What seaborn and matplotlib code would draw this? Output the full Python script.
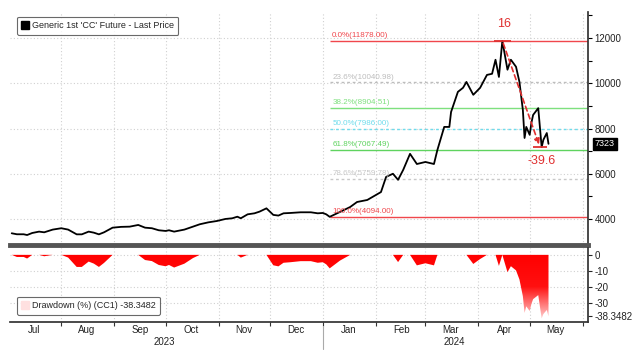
import pandas as pd
import numpy as np
import matplotlib
matplotlib.use("Agg")
import matplotlib.pyplot as plt
import matplotlib.dates as mdates
from matplotlib.colors import LinearSegmentedColormap
from matplotlib.lines import Line2D
import seaborn as sns

# CC1 close
dates = ["2023-07-03", "2023-07-06", "2023-07-10", "2023-07-12", "2023-07-15", "2023-07-19",
         "2023-07-22", "2023-07-27", "2023-08-01", "2023-08-05", "2023-08-10", "2023-08-13",
         "2023-08-17", "2023-08-20", "2023-08-23", "2023-08-26", "2023-08-31", "2023-09-05",
         "2023-09-10", "2023-09-15", "2023-09-19", "2023-09-23", "2023-09-27", "2023-10-01",
         "2023-10-03", "2023-10-06", "2023-10-12", "2023-10-17", "2023-10-21", "2023-10-26",
         "2023-10-31", "2023-11-05", "2023-11-09", "2023-11-12", "2023-11-14", "2023-11-18",
         "2023-11-22", "2023-11-25", "2023-11-29", "2023-12-01", "2023-12-03", "2023-12-06",
         "2023-12-09", "2023-12-13", "2023-12-19", "2023-12-25", "2023-12-29", "2024-01-01",
         "2024-01-03", "2024-01-05",
         "2024-01-11", "2024-01-17", "2024-01-21", "2024-01-27", "2024-02-04", "2024-02-07",
         "2024-02-11", "2024-02-14", "2024-02-17", "2024-02-21", "2024-02-25", "2024-03-01",
         "2024-03-06", "2024-03-08", "2024-03-12", "2024-03-15", "2024-03-16", "2024-03-20",
         "2024-03-23", "2024-03-25", "2024-03-29", "2024-04-02", "2024-04-06", "2024-04-09",
         "2024-04-11", "2024-04-13", "2024-04-15", "2024-04-18", "2024-04-20", "2024-04-23",
         "2024-04-25", "2024-04-27", "2024-04-28", "2024-04-29", "2024-05-01", "2024-05-02",
         "2024-05-03", "2024-05-06", "2024-05-08", "2024-05-09", "2024-05-11", "2024-05-12"]
price = [3367, 3323, 3323, 3290, 3380, 3440,
         3410, 3530, 3590, 3530, 3320, 3320,
         3440, 3395, 3320, 3410, 3615, 3650,
         3660, 3735, 3615, 3590, 3500, 3470,
         3500, 3440, 3530, 3660, 3765, 3850,
         3910, 4000, 4030, 4100, 4030, 4205,
         4250, 4325, 4470, 4325, 4180, 4150,
         4250, 4265, 4295, 4295, 4250, 4265,
         4205, 4094,
         4310, 4530, 4750, 4840, 5190, 5860,
         6000, 5730, 6170, 6880, 6430, 6520,
         6430, 7050, 8070, 8070, 8730, 9620,
         9800, 10060, 9490, 9800, 10370, 10420,
         11040, 10280, 11878, 10600, 11040, 10730,
         10060, 8820, 7580, 8070, 7720, 8250,
         8600, 8900, 7174, 7500, 7800, 7323]

fib_pct = ["0.0%", "23.6%", "38.2%", "50.0%", "61.8%", "78.6%", "100.0%"]
fib_val = [11878.00, 10040.98, 8904.51, 7986.00, 7067.49, 5759.78, 4094.00]
fib_col = ["#f0474c", "#bdbdbd", "#7ee07e", "#6fdcec", "#5fd35f", "#c8c8c8", "#f0474c"]
fib_ls = ["-", (0, (2, 2)), "-", (0, (2, 2)), "-", (0, (2, 2)), "-"]

df = pd.DataFrame({"date": pd.to_datetime(dates), "price": price})
df["drawdown"] = (df["price"] / df["price"].cummax() - 1) * 100

sns.set_theme(style="white")
plt.rcParams["font.family"] = ["Liberation Sans", "DejaVu Sans"]

fig = plt.figure(figsize=(6.42, 3.54), dpi=100)
ax = fig.add_axes([0.0156, 0.308, 0.9, 0.658])
ax2 = fig.add_axes([0.0156, 0.09, 0.9, 0.21], sharex=ax)

xmin, xmax = pd.Timestamp("2023-07-02"), pd.Timestamp("2024-06-04")

sns.lineplot(data=df, x="date", y="price", ax=ax, color="black", lw=1.3, legend=False)

# fibonacci retracement levels
lowdate = pd.Timestamp("2024-01-05")
for p, v, c, ls in zip(fib_pct, fib_val, fib_col, fib_ls):
    ax.hlines(v, lowdate, xmax, color=c, lw=1.0, linestyles=ls, zorder=1)
    ax.text(lowdate + pd.Timedelta(days=1.5), v + 80, f"{p}({v:.2f})", color=c,
            fontsize=5.8, va="bottom", ha="left")

# peak -> trough arrow
peak_d, trough_d = pd.Timestamp("2024-04-15"), pd.Timestamp("2024-05-07")
ax.annotate("", xy=(trough_d, 7174), xytext=(peak_d, 11878),
            arrowprops=dict(arrowstyle="-|>", color="#e03030", lw=1.2, ls=(0, (3, 2)),
                            mutation_scale=8))
ax.hlines(11878, peak_d - pd.Timedelta(days=5), peak_d + pd.Timedelta(days=5), color="#e03030", lw=1.3)
ax.hlines(7174, trough_d - pd.Timedelta(days=4), trough_d + pd.Timedelta(days=4), color="#e03030", lw=1.3)
ax.text(peak_d + pd.Timedelta(days=1), 12350, "16", color="#e03030", fontsize=9, ha="center", va="bottom")
ax.text(trough_d + pd.Timedelta(days=1), 6850, "-39.6", color="#e03030", fontsize=9, ha="center", va="top")

ax.set_ylim(2850, 13150)
ax.set_yticks([4000, 6000, 8000, 10000, 12000])
ax.set_yticks([5000, 7000, 9000, 11000, 13000], minor=True)
ax.yaxis.tick_right()
ax.set_xlabel("")
ax.set_ylabel("")
ax.set_xlim(xmin, xmax)
ax.grid(True, which="major", color="#d0d0d0", ls=(0, (1, 2)), lw=0.8)
ax.tick_params(axis="y", which="both", direction="out", length=3, width=0.8, color="black",
               labelsize=7, pad=2, right=True, labelcolor="#222222")
ax.tick_params(axis="x", which="both", bottom=False, labelbottom=False)
for s in ["top", "left"]:
    ax.spines[s].set_visible(False)
ax.spines["right"].set_color("#333333")
ax.spines["bottom"].set_color("#555555")
ax.spines["bottom"].set_linewidth(3.5)

ax.annotate("7323", xy=(1.0, 7323), xycoords=("axes fraction", "data"), xytext=(5, 0),
            textcoords="offset points", fontsize=6.5, color="white", va="center", ha="left",
            bbox=dict(boxstyle="square,pad=0.2", fc="black", ec="black"))

h1 = Line2D([], [], marker="s", ls="", color="black", markersize=6)
leg = ax.legend([h1], ["Generic 1st 'CC' Future - Last Price"], loc="upper left",
                bbox_to_anchor=(0.005, 1.0), fontsize=6.5, frameon=True,
                handlelength=0.7, handletextpad=0.4, borderpad=0.5, fancybox=True)
leg.get_frame().set_edgecolor("#444444")
leg.get_frame().set_linewidth(0.8)

# drawdown panel
ax2.set_xlim(xmin, xmax)
ax2.set_ylim(-41.9, 4.4)
poly = ax2.fill_between(df["date"], df["drawdown"], 0, color="none", lw=0)
cmap = LinearSegmentedColormap.from_list("dd", ["#ff0000", "#ff1010", "#ffd0d0"])
grad = np.linspace(0, 1, 256).reshape(-1, 1)
im = ax2.imshow(grad, cmap=cmap, aspect="auto", origin="upper",
                extent=[mdates.date2num(xmin), mdates.date2num(xmax), -40, 0], zorder=2)
im.set_clip_path(poly.get_paths()[0], transform=ax2.transData)

ax2.yaxis.tick_right()
ax2.set_yticks([0, -10, -20, -30, -38.3482])
ax2.set_yticklabels(["0", "-10", "-20", "-30", "-38.3482"])
ax2.tick_params(axis="y", direction="out", length=3, width=0.8, labelsize=7, pad=2, labelcolor="#222222")
ax2.grid(True, axis="y", color="#d0d0d0", ls=(0, (1, 2)), lw=0.8)
ax2.get_ygridlines()[-1].set_visible(False)

ax2.xaxis.set_major_locator(mdates.MonthLocator())
ax2.xaxis.set_major_formatter(plt.NullFormatter())
ax2.xaxis.set_minor_locator(mdates.MonthLocator(bymonthday=16))
ax2.xaxis.set_minor_formatter(mdates.DateFormatter("%b"))
ax2.tick_params(axis="x", which="major", direction="out", length=3, width=0.8, color="#333333", bottom=True)
ax2.tick_params(axis="x", which="minor", length=0, labelsize=7, pad=2, labelcolor="#222222")
ax2.grid(True, axis="x", which="major", color="#d0d0d0", ls=(0, (1, 2)), lw=0.8)
for s in ["top", "left"]:
    ax2.spines[s].set_visible(False)
ax2.spines["right"].set_color("#333333")
ax2.spines["bottom"].set_color("#333333")
ax2.set_xlabel("")
ax2.set_ylabel("")

h2 = Line2D([], [], marker="s", ls="", color="#ffe0e0", markersize=6)
leg2 = ax2.legend([h2], ["Drawdown (%) (CC1) -38.3482"], loc="lower left",
                  bbox_to_anchor=(0.005, 0.04), fontsize=6.5, frameon=True,
                  handlelength=0.7, handletextpad=0.4, borderpad=0.5, fancybox=True)
leg2.get_frame().set_edgecolor("#444444")
leg2.get_frame().set_linewidth(0.8)

# year labels
trans = ax2.get_xaxis_transform()
ax2.text(pd.Timestamp("2023-09-30"), -0.27, "2023", transform=trans, ha="center", va="center",
         fontsize=7, color="#222222")
ax2.text(pd.Timestamp("2024-03-18"), -0.27, "2024", transform=trans, ha="center", va="center",
         fontsize=7, color="#222222")
ax2.plot([pd.Timestamp("2024-01-01")] * 2, [-0.05, -0.36], transform=trans, color="#aaaaaa",
         lw=0.8, clip_on=False)

fig.savefig("out.png", dpi=100, facecolor="white")
